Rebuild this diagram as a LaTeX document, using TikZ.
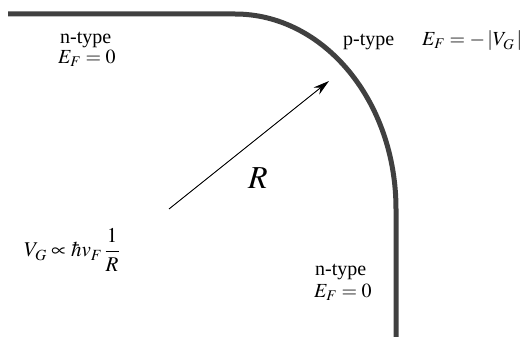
\documentclass[tikz,border=0pt]{standalone}
\usepackage{mathptmx}
\usepackage[no-math]{fontspec}
\setmainfont{Liberation Serif}
\newfontfamily\tnr{Liberation Serif}
\usetikzlibrary{arrows.meta}
\begin{document}
\begin{tikzpicture}[x=1pt,y=-1pt,
  edge/.style={line width=5pt,color=black!75},
  lbl/.style={inner sep=0pt,anchor=base west,font=\tnr\fontsize{20}{22}\selectfont},
  radius arrow/.style={line width=0.9pt,-{Stealth[length=16pt,width=9pt]}}]
\useasboundingbox (0,0) rectangle (528,337);
\coordinate (a) at (8,14);
\coordinate (b) at (235,14);
\coordinate (c) at (396,209);
\coordinate (d) at (396,337);
\draw[edge] (a) -- (b) arc[start angle=-90,end angle=0,x radius=161,y radius=195] -- (d);
\coordinate (r0) at (169,209);
\coordinate (r1) at (329,81);
\draw[radius arrow] (r0) -- (r1);
\node[lbl] (n1) at (60,44) {n-type};
\node[lbl] (e1) at (58,64) {$E_F=0$};
\node[lbl] (p) at (343,46) {p-type};
\node[lbl] (ep) at (422,46) {$E_F=-\,|V_G\,|$};
\node[lbl] (n2) at (315,275) {n-type};
\node[lbl] (e2) at (314,297) {$E_F=0$};
\node[inner sep=0pt,font=\fontsize{32}{34}\selectfont] (R) at (258,178) {$R$};
\node[inner sep=0pt,font=\fontsize{21}{24}\selectfont] (vg) at (72,250) {$\displaystyle V_G\propto\hbar v_F\,\frac{1}{R}$};
\end{tikzpicture}
\end{document}
